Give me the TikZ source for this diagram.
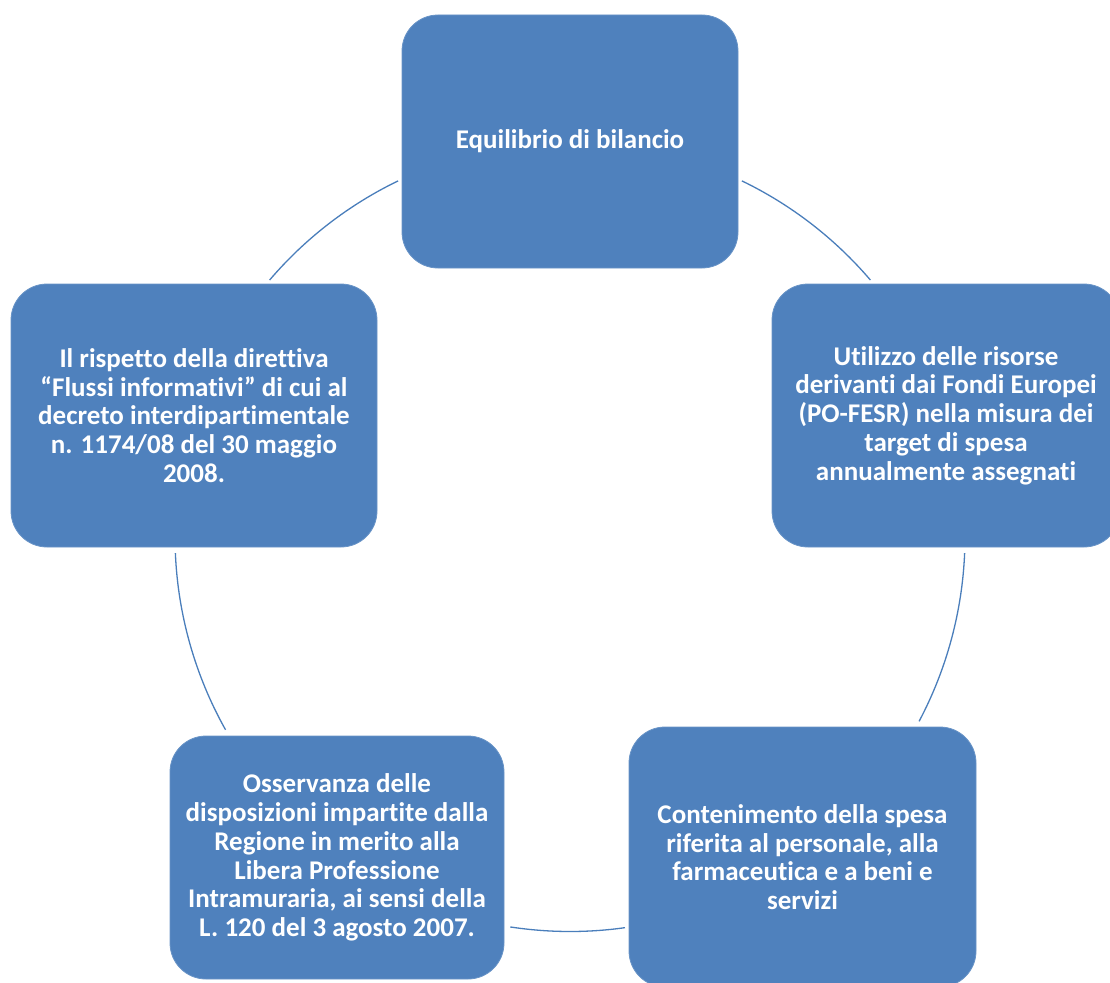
\documentclass[tikz,border=0pt]{standalone}
\usepackage{fontspec}
\setmainfont{Carlito}[Ligatures=NoCommon]
\definecolor{boxblue}{HTML}{4F81BD}
\definecolor{arcblue}{HTML}{4A7EBB}
\begin{document}
\begin{tikzpicture}[x=1pt,y=-1pt,
  box/.style={draw=boxblue!85!white, line width=0.8pt, fill=boxblue, rounded corners=36pt,
    text=white, font=\bfseries\fontsize{27}{28.7}\selectfont, align=center, inner sep=0pt},
  link/.style={draw=arcblue, line width=1.3pt}]
\clip (0,0) rectangle (1110,982);
\useasboundingbox (0,0) rectangle (1110,982);
\coordinate (c) at (570,536.5);
\node[box, minimum width=336pt, minimum height=253pt] (top) at (570,141.5) {Equilibrio di bilancio};
\node[box, minimum width=348pt, minimum height=263pt] (right) at (946,415.5)
  {Utilizzo delle risorse\\derivanti dai Fondi Europei\\(PO-FESR) nella misura dei\\target di spesa\\annualmente assegnati};
\node[box, minimum width=347pt, minimum height=260pt] (botright) at (802.5,857)
  {Contenimento della spesa\\riferita al personale, alla\\farmaceutica e a beni e\\servizi};
\node[box, minimum width=334pt, minimum height=243pt] (botleft) at (337,857.5)
  {Osservanza delle\\disposizioni impartite dalla\\Regione in merito alla\\Libera Professione\\Intramuraria, ai sensi della\\L. 120 del 3 agosto 2007.};
\node[box, minimum width=366pt, minimum height=263pt] (left) at (194,415.5)
  {Il rispetto della direttiva\\“Flussi informativi” di cui al\\decreto interdipartimentale\\n. 1174/08 del 30 maggio\\2008.};
% arc start points on the circle
\coordinate (a1) at ([shift={(c)}]-115.8:395);
\coordinate (a2) at ([shift={(c)}]-64.2:395);
\coordinate (a3) at ([shift={(c)}]2.4:395);
\coordinate (a4) at ([shift={(c)}]82:395);
\coordinate (a5) at ([shift={(c)}]177.6:395);
\draw[link] (a1) arc[start angle=-115.8, end angle=-139.5, radius=395];
\draw[link] (a2) arc[start angle=-64.2, end angle=-40.5, radius=395];
\draw[link] (a3) arc[start angle=2.4, end angle=27.9, radius=395];
\draw[link] (a4) arc[start angle=82, end angle=98.7, radius=395];
\draw[link] (a5) arc[start angle=177.6, end angle=150.7, radius=395];
\end{tikzpicture}
\end{document}
